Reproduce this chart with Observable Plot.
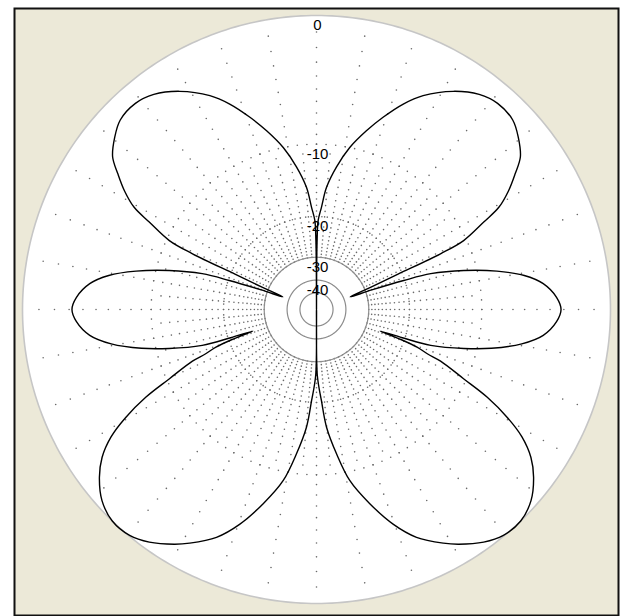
<!DOCTYPE html>
<html>
<head>
<meta charset="utf-8">
<script src="https://cdn.jsdelivr.net/npm/d3@7"></script>
<script src="https://cdn.jsdelivr.net/npm/@observablehq/plot@0.6"></script>
<style>
  body { margin: 0; background: #ffffff; }
  svg { display: block; }
</style>
</head>
<body>
<div id="chart"></div>
<script>
// ---- data (angle in degrees clockwise from top, gain in dB) ----
const patternAngle = [
  0, 0.5, 1.1, 2.8, 4.7, 8.0, 11.6, 15.6, 19.1, 22.9, 26.5, 32.1, 37.1, 41.3, 46.0, 49.6, 53.2, 55.7, 58.3, 60.7,
  62.4, 64.9, 65.8, 66.6, 67.8, 69.5, 70.5, 71.6, 72.6, 75.2, 78.0, 80.7, 83.5, 87.1, 90.0, 92.9, 96.5, 99.5,
  102.5, 104.8, 107.4, 108.2, 108.7, 109.5, 110.5, 111.8, 112.6, 115.2, 117.2, 119.5, 121.8, 124.6, 127.7,
  131.7, 136.0, 140.4, 144.3, 148.8, 151.5, 156.3, 160.3, 164.7, 169.0, 172.1, 175.1, 176.9, 179.3, 180,
  180.7, 183.1, 184.9, 187.9, 191.0, 195.3, 199.7, 203.7, 208.5, 211.2, 215.7, 219.6, 224.0, 228.3, 232.3,
  235.4, 238.2, 240.5, 242.8, 244.8, 247.4, 248.2, 249.5, 250.5, 251.3, 251.8, 252.6, 255.2, 257.5, 260.5,
  263.5, 267.1, 270.0, 272.9, 276.5, 279.3, 282.0, 284.8, 287.4, 288.4, 289.5, 290.5, 292.2, 293.4, 294.2,
  295.1, 297.6, 299.3, 301.7, 304.3, 306.8, 310.4, 314.0, 318.7, 322.9, 327.9, 333.5, 337.1, 340.9, 344.4,
  348.4, 352.0, 355.3, 357.2, 358.9, 359.5, 360
];
const patternDb = [
  -120, -25, -20.7, -18.3, -15.2, -12.4, -10.0, -8.0, -6.4, -4.8, -3.6, -2.3, -1.5, -1.2, -1.3, -1.8, -2.5, -3.5, -4.6, -5.9,
  -7.7, -10.3, -13.4, -20.9, -28.1, -36.5, -28.0, -20.2, -15.6, -11.4, -8.1, -5.8, -4.4, -3.5, -3.2, -3.5, -4.4, -6.0,
  -8.6, -11.4, -15.6, -20.5, -25.6, -21.0, -17.5, -15.6, -13.6, -10.3, -7.4, -5.1, -3.4, -2.1, -1.2,
  -0.4, 0, -0.05, -0.45, -1.2, -1.75, -2.9, -4.4, -6.6, -9.1, -12.2, -15.8, -20.3, -26, -120,
  -26, -20.3, -15.8, -12.2, -9.1, -6.6, -4.4, -2.9, -1.75, -1.2, -0.45, -0.05, 0, -0.4, -1.2,
  -2.1, -3.4, -5.1, -7.4, -10.3, -13.6, -15.6, -17.5, -21.0, -25.6, -20.5, -15.6, -11.4, -8.6, -6.0,
  -4.4, -3.5, -3.2, -3.5, -4.4, -5.8, -8.1, -11.4, -15.6, -20.2, -28.0, -36.5, -28.1, -20.9, -13.4,
  -10.3, -7.7, -5.9, -4.6, -3.5, -2.5, -1.8, -1.3, -1.2, -1.5, -2.3, -3.6, -4.8, -6.4, -8.0,
  -10.0, -12.4, -15.2, -18.3, -20.7, -25, -120
];
const outerRingDb = 0;
const dottedRingsDb = [-10, -20];
const solidRingsDb = [-30, -40, -50];
const labelDb = [0, -10, -20, -30, -40];
const labelText = ["0", "-10", "-20", "-30", "-40"];
const fineSpokeRangeDb = [-30, -11];   // spokes every 5 degrees
const coarseSpokeRangeDb = [-10, -1];  // spokes every 10 degrees

// ---- geometry helpers (radius in px, 0 dB = outer circle, r ~ 10^(dB/40)) ----
const R = 294;
const rad = db => R * Math.pow(10, db / 40);
const X = d => rad(d.db) * Math.sin(d.a * Math.PI / 180);
const Y = d => rad(d.db) * Math.cos(d.a * Math.PI / 180);

const pattern = patternAngle.map((a, i) => ({a, db: patternDb[i]}));
const circleAngles = d3.range(0, 360.5, 1);
const outerPts = circleAngles.map(a => ({a, db: outerRingDb}));
const solidPts = solidRingsDb.flatMap(db => circleAngles.map(a => ({a, db})));
const ringDotPts = dottedRingsDb.flatMap(db => d3.range(0, 108).map(k => ({a: k * 360 / 108, db})));
const spokeDots = [];
for (const a of d3.range(0, 360, 5)) {
  for (let db = fineSpokeRangeDb[0]; db <= fineSpokeRangeDb[1]; db++) spokeDots.push({a, db});
}
for (const a of d3.range(0, 360, 10)) {
  for (let db = coarseSpokeRangeDb[0]; db <= coarseSpokeRangeDb[1]; db++) spokeDots.push({a, db});
}
const labels = labelDb.map((db, i) => ({a: 0, db, t: labelText[i]}));

const chart = Plot.plot({
  width: 620,
  height: 616,
  marginLeft: 14,
  marginRight: 2,
  marginTop: 8,
  marginBottom: 1,
  x: {domain: [-302, 302], axis: null},
  y: {domain: [-306, 301], axis: null},
  style: {fontFamily: "Liberation Sans, Arial, sans-serif", background: "#ffffff"},
  marks: [
    Plot.frame({fill: "#ECE9D8", stroke: "#111111", strokeWidth: 2}),
    Plot.line(outerPts, {x: X, y: Y, fill: "#ffffff", stroke: "#c6c6c6", strokeWidth: 1.6}),
    Plot.dot(spokeDots, {x: X, y: Y, r: 0.8, fill: "#6a6a6a"}),
    Plot.dot(ringDotPts, {x: X, y: Y, r: 0.8, fill: "#6a6a6a"}),
    Plot.line(solidPts, {x: X, y: Y, z: "db", stroke: "#8c8c8c", strokeWidth: 1.2}),
    Plot.line(pattern, {x: X, y: Y, stroke: "#000000", strokeWidth: 1.4, curve: "catmull-rom"}),
    Plot.text(labels, {x: X, y: Y, text: "t", dy: 10, dx: 1, fontSize: 15, fill: "#000000", textAnchor: "middle"})
  ]
});
document.getElementById("chart").appendChild(chart);
</script>
</body>
</html>
